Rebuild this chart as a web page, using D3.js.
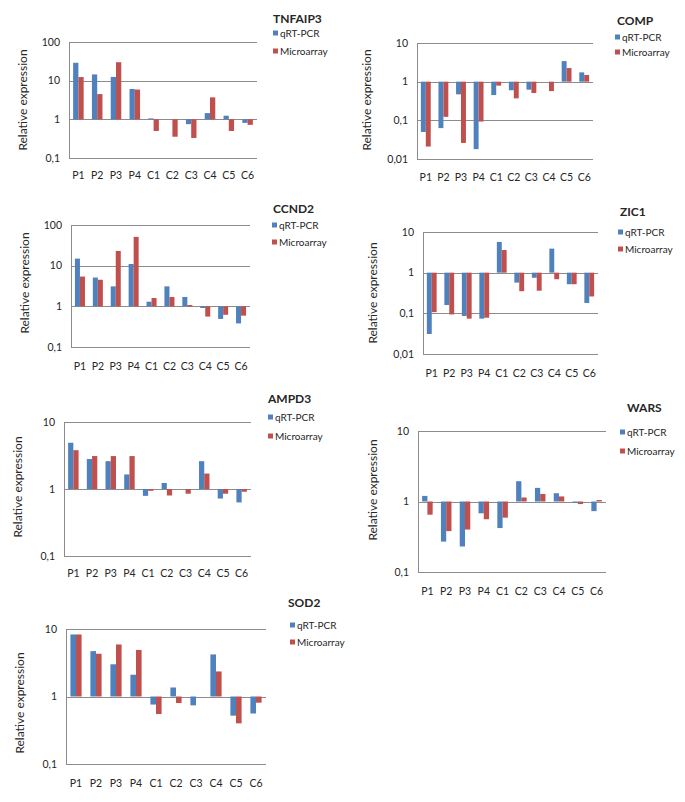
<!DOCTYPE html>
<html>
<head>
<meta charset="utf-8">
<script src="https://cdn.jsdelivr.net/npm/d3@7"></script>
<style>
  html, body { margin: 0; padding: 0; background: #fff; }
  svg { display: block; }
  text { font-family: Lato, "Open Sans", sans-serif; fill: #262626; }
</style>
</head>
<body>
<script>
// ---------- DATA ----------
const categories = ["P1","P2","P3","P4","C1","C2","C3","C4","C5","C6"];
const seriesNames = ["qRT-PCR","Microarray"];

const tnfaip3Qpcr = [29, 14.5, 12.5, 6.1, 1.06, 1.0, 0.75, 1.45, 1.24, 0.81];
const tnfaip3Micro = [12.4, 4.5, 30, 5.9, 0.5, 0.355, 0.33, 3.7, 0.5, 0.72];

const compQpcr = [0.05, 0.063, 0.47, 0.018, 0.45, 0.6, 0.62, 1.0, 3.4, 1.74];
const compMicro = [0.021, 0.123, 0.026, 0.093, 0.79, 0.37, 0.51, 0.57, 2.25, 1.49];

const ccnd2Qpcr = [14.9, 5.1, 3.1, 11, 1.3, 3.1, 1.7, 0.91, 0.49, 0.38];
const ccnd2Micro = [5.4, 4.5, 23, 51, 1.6, 1.7, 1.08, 0.56, 0.62, 0.59];

const zic1Qpcr = [0.031, 0.16, 0.086, 0.074, 5.7, 0.57, 0.75, 3.9, 0.52, 0.18];
const zic1Micro = [0.107, 0.094, 0.074, 0.078, 3.6, 0.35, 0.36, 0.69, 0.52, 0.26];

const ampd3Qpcr = [4.9, 2.8, 2.6, 1.65, 0.79, 1.23, 1.0, 2.6, 0.72, 0.63];
const ampd3Micro = [3.8, 3.1, 3.1, 3.1, 0.94, 0.8, 0.85, 1.7, 0.85, 0.91];

const warsQpcr = [1.2, 0.27, 0.23, 0.68, 0.42, 1.94, 1.56, 1.31, 0.96, 0.73];
const warsMicro = [0.65, 0.38, 0.40, 0.56, 0.59, 1.14, 1.28, 1.18, 0.92, 1.05];

const sod2Qpcr = [8.3, 4.7, 3.0, 2.1, 0.76, 1.36, 0.74, 4.2, 0.52, 0.56];
const sod2Micro = [8.3, 4.3, 5.9, 4.9, 0.55, 0.8, 1.0, 2.35, 0.4, 0.81];

const ticks3 = [0.1, 1, 10, 100];
const ticksLow = [0.01, 0.1, 1, 10];
const ticks2 = [0.1, 1, 10];
const tickLabel = v => String(v).replace(".", ",");

// ---------- LAYOUT (positions / styles only) ----------
const colors = ["#4F81BD", "#C0504D"];
const panels = [
  {gene:"TNFAIP3", q:tnfaip3Qpcr, m:tnfaip3Micro, ticks:ticks3,
   x0:69, x1:257, yTop:42, yBot:158, labY:175, tX:273, tY:19, lX:273, lY:[33,51], yt:[23,100]},
  {gene:"COMP", q:compQpcr, m:compMicro, ticks:ticksLow,
   x0:417, x1:593, yTop:43, yBot:159, labY:177, tX:617, tY:21, lX:615, lY:[37,52], yt:[367,100]},
  {gene:"CCND2", q:ccnd2Qpcr, m:ccnd2Micro, ticks:ticks3,
   x0:71, x1:250, yTop:225, yBot:347, labY:366, tX:273, tY:209, lX:272, lY:[225,242], yt:[25,283]},
  {gene:"ZIC1", q:zic1Qpcr, m:zic1Micro, ticks:ticksLow,
   x0:423, x1:598, yTop:232, yBot:354, labY:373, tX:620, tY:212, lX:618, lY:[232,249], yt:[373,293]},
  {gene:"AMPD3", q:ampd3Qpcr, m:ampd3Micro, ticks:ticks2,
   x0:64, x1:251, yTop:422, yBot:556, labY:573, tX:268, tY:399, lX:268, lY:[417,436], yt:[18,487]},
  {gene:"WARS", q:warsQpcr, m:warsMicro, ticks:ticks2,
   x0:418, x1:606, yTop:431, yBot:572, labY:591, tX:627, tY:408, lX:620, lY:[432,451], yt:[373,490]},
  {gene:"SOD2", q:sod2Qpcr, m:sod2Micro, ticks:ticks2,
   x0:66, x1:266, yTop:629, yBot:764, labY:783, tX:288, tY:603, lX:290, lY:[625,642], yt:[20,703]}
];

const svg = d3.select("body").append("svg").attr("width", 685).attr("height", 802);

panels.forEach(p => {
  const g = svg.append("g");
  const y = d3.scaleLog().domain([p.ticks[0], p.ticks[p.ticks.length-1]]).range([p.yBot, p.yTop]);
  const x = d3.scaleBand().domain(categories).range([p.x0, p.x1]).paddingInner(0).paddingOuter(0);
  const bw = x.bandwidth() * 0.28;

  // gridlines
  g.selectAll("line.grid").data(p.ticks).join("line")
    .attr("x1", p.x0).attr("x2", p.x1)
    .attr("y1", d => Math.round(y(d)) + 0.5).attr("y2", d => Math.round(y(d)) + 0.5)
    .attr("stroke", "#8c8c8c").attr("stroke-width", 1);
  // left axis line
  g.append("line").attr("x1", p.x0 + 0.5).attr("x2", p.x0 + 0.5)
    .attr("y1", Math.round(p.yTop)).attr("y2", Math.round(p.yBot) + 1)
    .attr("stroke", "#8c8c8c");

  // tick labels
  g.selectAll("text.tick").data(p.ticks).join("text")
    .attr("x", p.x0 - 9).attr("y", d => y(d)).attr("dy", "0.35em")
    .attr("text-anchor", "end").attr("font-size", 10.5)
    .text(tickLabel);

  // bars
  const base = y(1);
  [p.q, p.m].forEach((vals, si) => {
    g.selectAll("rect.s" + si).data(vals).join("rect")
      .attr("x", (d, i) => x(categories[i]) + x.bandwidth() / 2 - bw + si * bw)
      .attr("width", bw)
      .attr("y", d => Math.min(y(d), base))
      .attr("height", d => Math.abs(y(d) - base))
      .attr("fill", colors[si]);
  });

  // category labels
  g.selectAll("text.cat").data(categories).join("text")
    .attr("x", d => x(d) + x.bandwidth() / 2).attr("y", p.labY).attr("dy", "0.35em")
    .attr("text-anchor", "middle").attr("font-size", 10.5)
    .text(d => d);

  // y axis title
  g.append("text")
    .attr("transform", `translate(${p.yt[0]},${p.yt[1]}) rotate(-90)`)
    .attr("text-anchor", "middle").attr("dy", "0.35em")
    .attr("font-size", 12).text("Relative expression");

  // title
  g.append("text").attr("x", p.tX).attr("y", p.tY).attr("dy", "0.35em")
    .attr("font-size", 12).attr("font-weight", "bold").attr("fill", "#1a1a1a")
    .text(p.gene);

  // legend
  seriesNames.forEach((s, i) => {
    g.append("rect").attr("x", p.lX).attr("y", p.lY[i] - 2.5).attr("width", 5).attr("height", 5)
      .attr("fill", colors[i]);
    g.append("text").attr("x", p.lX + 7).attr("y", p.lY[i]).attr("dy", "0.35em")
      .attr("font-size", 10).text(s);
  });
});
</script>
</body>
</html>
